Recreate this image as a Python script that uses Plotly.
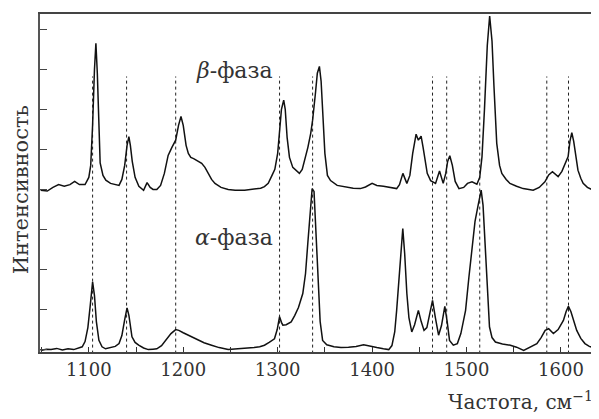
import plotly.graph_objects as go

# Beta phase spectrum (top)
beta_x = [1049, 1056, 1062, 1068, 1074, 1080, 1085, 1090, 1096, 1100, 1102, 1104, 1106, 1107.5, 1109, 1110.5, 1112,
          1115, 1118, 1123, 1128, 1132, 1135, 1138, 1140.5, 1142.4, 1144, 1146, 1149, 1153, 1158, 1161.7, 1165, 1168,
          1172, 1176, 1180, 1184, 1188, 1192, 1195, 1197.6, 1200, 1203, 1205.4, 1208, 1211, 1215, 1219.5, 1223, 1226.5,
          1230, 1233.6, 1240, 1247.6, 1255, 1265, 1275, 1282, 1286, 1290, 1294, 1297, 1300, 1302, 1304, 1306.4, 1308,
          1310, 1312.5, 1316, 1320, 1323, 1326, 1329, 1332, 1335, 1337, 1340, 1342, 1344.2, 1346, 1348, 1350, 1352.7,
          1356, 1363, 1370, 1380, 1387.6, 1393, 1400, 1405, 1412, 1420, 1426, 1429, 1432.6, 1436.8, 1440, 1443, 1446.6,
          1449, 1451.9, 1454, 1456, 1458.4, 1462, 1467.2, 1471.4, 1475.3, 1478, 1480, 1482.3, 1485, 1488, 1492, 1497,
          1501, 1505.8, 1511, 1514, 1516.4, 1519, 1522, 1524.5, 1527, 1529, 1532, 1535, 1537.4, 1542, 1546, 1553, 1560,
          1570.6, 1577, 1583, 1587, 1591, 1594, 1597, 1601, 1605, 1607.6, 1609.5, 1611.5, 1613.5, 1616, 1618, 1621,
          1623.5, 1628, 1634]
beta_y = [3.98, 3.96, 4.05, 4.12, 4.08, 4.12, 4.2, 4.12, 4.12, 4.3, 4.6, 5.6, 7.0, 7.65, 6.9, 5.4, 4.66,
          4.35, 4.23, 4.15, 4.12, 4.1, 4.25, 4.6, 5.1, 5.32, 5.1, 4.7, 4.3, 4.08, 3.98, 4.17, 4.05, 4.0,
          4.0, 4.1, 4.4, 4.85, 5.05, 5.23, 5.6, 5.82, 5.6, 5.1, 4.9, 4.8, 4.77, 4.72, 4.65, 4.55, 4.4,
          4.25, 4.15, 4.05, 4.0, 3.98, 3.98, 4.0, 4.03, 4.07, 4.15, 4.35, 4.5, 4.9, 5.5, 6.0, 6.23, 6.0,
          5.3, 4.8, 4.55, 4.45, 4.4, 4.5, 4.75, 5.05, 5.4, 5.73, 6.4, 6.9, 7.07, 6.7, 5.8, 4.9, 4.35,
          4.22, 4.1, 4.07, 4.03, 4.02, 4.06, 4.15, 4.1, 4.08, 4.04, 4.02, 4.12, 4.4, 4.15, 4.35, 4.9, 5.38,
          5.23, 5.33, 5.05, 4.7, 4.4, 4.22, 4.15, 4.46, 4.15, 4.4, 4.7, 4.84, 4.6, 4.2, 4.02, 4.05,
          4.15, 4.19, 4.13, 4.3, 4.82, 6.0, 7.6, 8.33, 7.7, 6.6, 5.15, 4.6, 4.4, 4.25, 4.15, 4.08, 4.02,
          3.98, 4.05, 4.19, 4.36, 4.44, 4.38, 4.32, 4.45, 4.65, 4.82, 5.2, 5.42, 5.2, 4.75, 4.48, 4.28,
          4.15, 4.05, 3.98]

# Alpha phase spectrum (bottom)
alpha_x = [1049, 1055, 1060, 1066, 1072, 1078, 1084, 1089, 1093, 1096, 1099, 1101.5, 1104, 1106, 1108, 1110.7, 1114,
           1117.7, 1122, 1128, 1132, 1135, 1138, 1140.5, 1142.5, 1145.7, 1149, 1152.8, 1158, 1163, 1168, 1172, 1177,
           1182.6, 1187, 1192, 1195.3, 1200, 1205.4, 1210, 1216, 1222, 1230, 1238, 1247.6, 1255, 1265, 1275, 1281,
           1286, 1291, 1296.6, 1299.5, 1302, 1304, 1305.5, 1309, 1314.3, 1318, 1322, 1326.6, 1329.5, 1331.9, 1334,
           1336.5, 1338.5, 1340.6, 1343, 1345, 1347.6, 1352, 1359.6, 1367, 1375, 1383, 1391, 1398, 1405, 1412, 1417.6,
           1421, 1424, 1426, 1429, 1432.5, 1434.5, 1436.8, 1439, 1442, 1445, 1449, 1452, 1455, 1458, 1461, 1464, 1467,
           1470.4, 1473.5, 1477, 1479.5, 1482, 1486, 1490.3, 1494, 1499, 1502.5, 1506, 1509, 1512, 1514, 1515.5,
           1517.5, 1520, 1522, 1524.3, 1527, 1530.6, 1538, 1546.4, 1553, 1560.5, 1567, 1574.5, 1579, 1583.3, 1587,
           1589.5, 1592, 1597, 1602.6, 1605.5, 1607.9, 1610.5, 1613, 1616.7, 1621, 1625.4, 1630, 1634.3]
alpha_y = [-0.02, 0.01, 0.0, 0.03, -0.01, 0.02, 0.0, 0.03, 0.07, 0.2, 0.55, 1.1, 1.69, 1.35, 0.7, 0.23, 0.07,
           0.02, 0.04, 0.08, 0.15, 0.35, 0.75, 1.04, 0.85, 0.32, 0.18, 0.11, 0.04, 0.0, 0.01, 0.02, 0.1,
           0.27, 0.4, 0.5, 0.48, 0.42, 0.36, 0.3, 0.23, 0.17, 0.11, 0.05, 0.0, 0.01, 0.02, 0.05, 0.07,
           0.11, 0.18, 0.27, 0.5, 0.82, 0.68, 0.61, 0.62, 0.69, 0.85, 1.05, 1.4, 1.9, 2.65, 3.3,
           4.02, 3.95, 3.0, 1.6, 0.7, 0.23, 0.12, 0.07, 0.05, 0.06, 0.08, 0.12, 0.08, 0.05, 0.02, 0.0,
           0.1, 0.45, 0.98, 1.9, 3.02, 2.4, 1.4, 0.8, 0.44, 0.62, 0.98, 0.7, 0.48, 0.55, 0.9, 1.23, 0.8,
           0.36, 0.6, 1.08, 0.7, 0.23, 0.11, 0.15, 0.4, 0.98, 1.8, 2.65, 3.2, 3.57, 3.8, 3.98,
           3.6, 2.65, 1.6, 0.57, 0.3, 0.19, 0.14, 0.11, 0.06, -0.02, 0.05, 0.15, 0.3, 0.48, 0.52,
           0.47, 0.4, 0.5, 0.73, 0.95, 1.08, 0.95, 0.75, 0.48, 0.28, 0.15, 0.08, 0.05]

# Dotted reference lines (cm^-1)
dotted_lines = [1104, 1140, 1192, 1302, 1337, 1464, 1479, 1514, 1585, 1608]
dotted_top = 6.82

x_ticks = [1100, 1200, 1300, 1400, 1500, 1600]
y_ticks = [0, 1, 2, 3, 4, 5, 6, 7, 8]

FONT = "DejaVu Serif"

fig = go.Figure()

# dotted lines as one trace with gaps
dx, dy = [], []
for v in dotted_lines:
    dx += [v, v, None]
    dy += [-0.1, dotted_top, None]
fig.add_trace(go.Scatter(x=dx, y=dy, mode="lines",
                         line=dict(color="#222", width=1, dash="dot"),
                         hoverinfo="skip", showlegend=False))

fig.add_trace(go.Scatter(x=beta_x, y=beta_y, mode="lines",
                         line=dict(color="#111", width=1.5), showlegend=False))
fig.add_trace(go.Scatter(x=alpha_x, y=alpha_y, mode="lines",
                         line=dict(color="#111", width=1.5), showlegend=False))

# page body has an 8px default margin, so the figure is sized to fit inside it
fig.update_layout(
    width=591, height=411,
    margin=dict(l=32, r=3, t=6, b=67),
    paper_bgcolor="white", plot_bgcolor="white",
    font=dict(family=FONT, size=18, color="#222"),
    xaxis=dict(range=[1048.3, 1635], tickvals=x_ticks, ticks="inside", ticklen=5,
               tickcolor="#333", showgrid=False, zeroline=False,
               showline=True, linecolor="#444", linewidth=2, mirror=True,
               minor=dict(dtick=50, tick0=1050, ticks="inside", ticklen=5, tickcolor="#333"),
               tickfont=dict(family=FONT, size=18, color="#333")),
    yaxis=dict(range=[-0.06, 8.38], tickvals=y_ticks, ticks="inside", ticklen=7,
               tickcolor="#444", showticklabels=False, showgrid=False, zeroline=False,
               showline=True, linecolor="#555", linewidth=1.5, mirror=True),
    annotations=[
        dict(text="<i>β</i>-фаза", x=1254, y=6.98, xref="x", yref="y", showarrow=False,
             font=dict(family=FONT, size=22, color="#333"), xanchor="center", yanchor="middle"),
        dict(text="<i>α</i>-фаза", x=1254, y=2.81, xref="x", yref="y", showarrow=False,
             font=dict(family=FONT, size=22, color="#333"), xanchor="center", yanchor="middle"),
        dict(text="Интенсивность", x=-0.035, y=0.48, xref="paper", yref="paper", showarrow=False,
             textangle=-90, font=dict(family=FONT, size=21, color="#333"),
             xanchor="center", yanchor="middle"),
        dict(text="Частота, см<sup>−1</sup>", x=1.0, y=-0.145, xref="paper", yref="paper",
             xshift=1, showarrow=False, font=dict(family=FONT, size=20, color="#333"),
             xanchor="right", yanchor="middle"),
    ],
)

fig.write_html("out.html")
